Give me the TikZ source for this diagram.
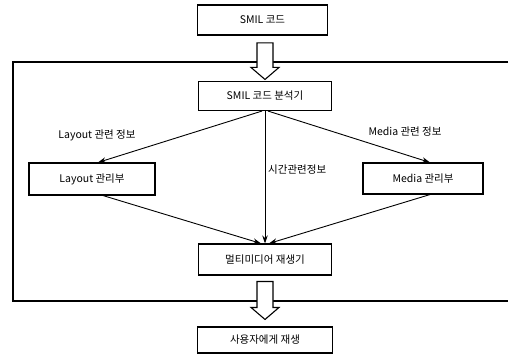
\documentclass[tikz,border=0pt]{standalone}
\usepackage{fontspec}
\newfontfamily\kr{Noto Sans CJK KR}
\usetikzlibrary{calc,arrows.meta}
\begin{document}
\begin{tikzpicture}[x=1pt,y=-1pt,
  box/.style={draw,line width=1.1pt,rectangle,inner sep=0pt,font=\kr\fontsize{10.5}{12}\selectfont},
  lbl/.style={font=\kr\fontsize{10.5}{12}\selectfont,inner sep=0pt},
  conn/.style={line width=0.9pt,-{Stealth[length=8pt,width=5.5pt]}},
  hollow/.style={draw,line width=1.1pt,fill=white,line join=miter},
  frame/.style={line width=1.1pt}]
\useasboundingbox (0,0) rectangle (510,358);
% frame
\coordinate (ftr) at (508,62);
\coordinate (ftl) at (13,62);
\coordinate (fbl) at (13,301);
\coordinate (fbr) at (508,301);
\draw[frame] (ftr) -- (ftl) -- (fbl) -- (fbr);
% boxes
\node[box,minimum width=130,minimum height=30] (smil) at (262.5,20) {SMIL 코드};
\node[box,minimum width=133,minimum height=29] (an) at (265,96) {SMIL 코드 분석기};
\node[box,minimum width=126,minimum height=32] (lay) at (92,179) {Layout 관리부};
\node[box,minimum width=120,minimum height=31] (med) at (423,178.5) {Media 관리부};
\node[box,minimum width=133,minimum height=31] (mm) at (265,259.5) {멀티미디어 재생기};
\node[box,minimum width=135,minimum height=26] (user) at (265,340) {사용자에게 재생};
% hollow arrows
\coordinate (h1t) at ($(an.north)+(0,-1.5)$);
\coordinate (h1s) at ($(an.north)+(0,-38)$);
\draw[hollow] ($(h1s)+(-8,0)$) -- ($(h1t)+(-8,-12)$) -- ($(h1t)+(-14,-12)$) -- (h1t)
  -- ($(h1t)+(14,-12)$) -- ($(h1t)+(8,-12)$) -- ($(h1s)+(8,0)$) -- cycle;
\coordinate (h2t) at ($(user.north)+(0,-7)$);
\coordinate (h2s) at ($(user.north)+(0,-45)$);
\draw[hollow] ($(h2s)+(-8,0)$) -- ($(h2t)+(-8,-12)$) -- ($(h2t)+(-14,-12)$) -- (h2t)
  -- ($(h2t)+(14,-12)$) -- ($(h2t)+(8,-12)$) -- ($(h2s)+(8,0)$) -- cycle;
% connectors
\draw[conn] ($(an.south)+(-3,0)$) -- ($(lay.north)+(6,0)$);
\draw[conn] ($(an.south)+(3,0)$) -- ($(med.north)+(7,0)$);
\draw[conn] (an.south) -- (mm.north);
\draw[conn] ($(lay.south)+(11,0)$) -- ($(mm.north)+(-4,0)$);
\draw[conn] ($(med.south)+(7,0)$) -- ($(mm.north)+(4,0)$);
% labels
\node[lbl] (l1) at (97,135) {Layout 관련 정보};
\node[lbl] (l2) at (405,132) {Media 관련 정보};
\node[lbl,anchor=west] (l3) at (268,170) {시간관련정보};
\end{tikzpicture}
\end{document}
